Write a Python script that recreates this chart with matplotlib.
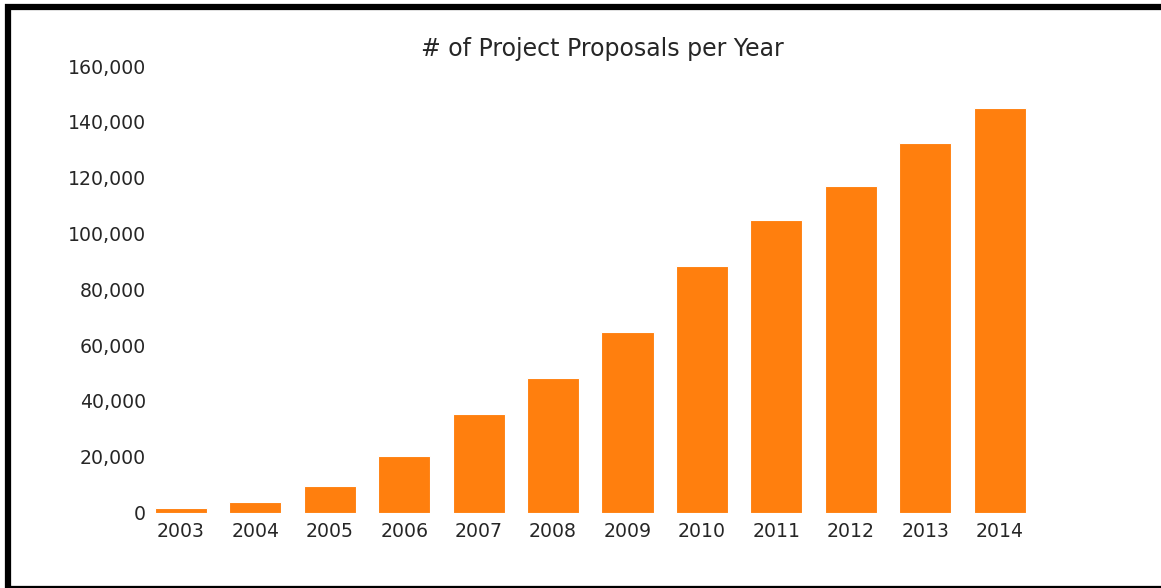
import matplotlib
matplotlib.use('Agg')
import matplotlib.pyplot as plt
from matplotlib.patches import Rectangle
from matplotlib.ticker import FuncFormatter

# Data
years = ['2003', '2004', '2005', '2006', '2007', '2008',
         '2009', '2010', '2011', '2012', '2013', '2014']
proposals = [1700, 3900, 9500, 20400, 35300, 48300,
             64800, 88400, 104900, 117100, 132400, 145100]

text_color = '#262626'

fig = plt.figure(figsize=(11.61, 5.88), dpi=100)
ax = fig.add_axes([153 / 1161, 75.5 / 588, 898 / 1161, 446.5 / 588])

ax.bar(range(len(years)), proposals, width=0.7, color='#ff7f0e',
       edgecolor='white', linewidth=0.8)

ax.set_xticks(range(len(years)))
ax.set_xticklabels(years)
ax.set_xlim(-0.376, 11.69)
ax.set_ylim(0, 160000)
ax.set_yticks(range(0, 160001, 20000))
ax.yaxis.set_major_formatter(FuncFormatter(lambda v, p: f'{int(v):,}'))

ax.tick_params(length=0, labelsize=13.6, labelcolor=text_color)
ax.tick_params(axis='y', pad=5)
ax.tick_params(axis='x', pad=6.5)
for s in ax.spines.values():
    s.set_visible(False)

ax.set_title('# of Project Proposals per Year', fontsize=17,
             color=text_color, pad=7)

# black frame (left, top, bottom) from the screenshot
fig.patches.append(Rectangle((8 / 1161, -0.5 / 588), 1.1, 581.5 / 588,
                             transform=fig.transFigure, fill=False,
                             edgecolor='black', linewidth=4.5))

fig.savefig('out.png', dpi=100)
